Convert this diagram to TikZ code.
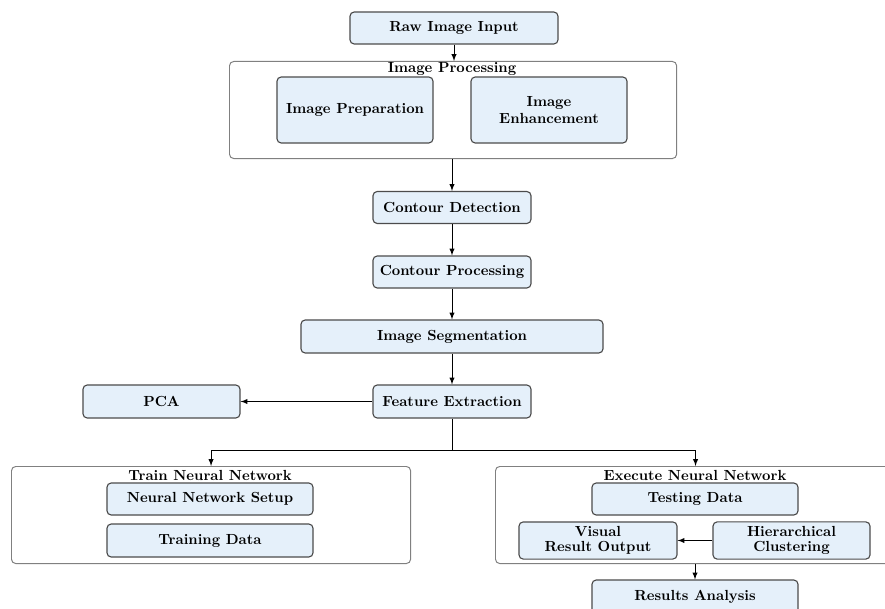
\documentclass[tikz,border=0pt]{standalone}
\usepackage{xcolor}
\usepackage{tikz}
\usetikzlibrary{positioning}
\definecolor{boxfill}{rgb}{0.90, 0.94, 0.98}
\definecolor{boxline}{rgb}{0.30, 0.30, 0.30}
\tikzset{
    block/.style={
        draw = boxline, fill = boxfill, line width = 0.8pt,
        rounded corners = 3pt,
        minimum width = 3.95cm, 
        minimum height = 0.8cm,
        align = center,
        font = \fontsize{10.4}{12.5}\selectfont\bfseries
    }, 
    group/.style={
        draw = gray, line width = 0.7pt, rounded corners = 3pt,
        fill = white, anchor = north west
    },
    grouptitle/.style = {font = \fontsize{10.4}{12.5}\selectfont\bfseries, inner sep = 0pt},
    line/.style = {-latex, line width = 0.7pt}
}
\begin{document}
\begin{tikzpicture}[x=0.025cm, y=-0.025cm]

    \clip (0,0) rectangle (885,609);
    \fill[white] (0,0) rectangle (885,609);

    % Raw input
    \node[block, minimum width = 5.2cm] (raw) at (454,28) {Raw Image Input};

    % Image processing group
    \node[group, minimum width = 11.175cm, minimum height = 2.425cm] (proc) at (229,61) {};
    \node[grouptitle] (proctitle) at (452,69) {Image Processing};
    \node[block, minimum width = 3.9cm, minimum height = 1.65cm] (prep) at (355,110) {Image Preparation};
    \node[block, minimum width = 3.9cm, minimum height = 1.65cm] (enh) at (549,110) {Image\\Enhancement};

    % Contours and segmentation
    \node[block] (detect) at (452,207.5) {Contour Detection};
    \node[block] (cproc) at (452,272) {Contour Processing};
    \node[block, minimum width = 7.55cm, minimum height = 0.825cm] (segm) at (452,336.5) {Image Segmentation};

    % Features
    \node[block, minimum height = 0.825cm] (feat) at (452,401.5) {Feature Extraction};
    \node[block, minimum width = 3.925cm, minimum height = 0.825cm] (pca) at (161.5,401.5) {PCA};

    % Train group
    \node[group, minimum width = 9.975cm, minimum height = 2.425cm] (train) at (11,466) {};
    \node[grouptitle] (traintitle) at (210,475) {Train Neural Network};
    \node[block, minimum width = 5.15cm] (setup) at (210,499) {Neural Network Setup};
    \node[block, minimum width = 5.15cm, minimum height = 0.825cm] (trdata) at (210,540.5) {Training Data};

    % Execute group
    \node[group, minimum width = 10cm, minimum height = 2.425cm] (exec) at (495,466) {};
    \node[grouptitle] (exectitle) at (695,475) {Execute Neural Network};
    \node[block, minimum width = 5.15cm] (test) at (695,499) {Testing Data};
    \node[block, minimum height = 0.825cm] (visual) at (598,540.5) {Visual\\[-2pt]Result Output};
    \node[block, minimum width = 3.925cm, minimum height = 0.825cm] (clust) at (791.5,540.5) {Hierarchical\\[-2pt]Clustering};

    % Results
    \node[block, minimum width = 5.15cm, minimum height = 0.825cm] (res) at (695,596.5) {Results Analysis};

    % Arrows
    \draw[line] (raw) -- (proc.north -| raw.south);
    \draw[line] (proc.south -| detect.north) -- (detect);
    \draw[line] (detect) -- (cproc);
    \draw[line] (cproc) -- (segm);
    \draw[line] (segm) -- (feat);
    \draw[line] (feat) -- (pca);
    \coordinate (split) at (452,450);
    \draw[line width = 0.7pt] (feat) -- (split);
    \draw[line] (split) -| (train.north);
    \draw[line] (split) -| (exec.north);
    \draw[line] (clust) -- (visual);
    \draw[line] (exec.south -| res.north) -- (res);

\end{tikzpicture}
\end{document}
